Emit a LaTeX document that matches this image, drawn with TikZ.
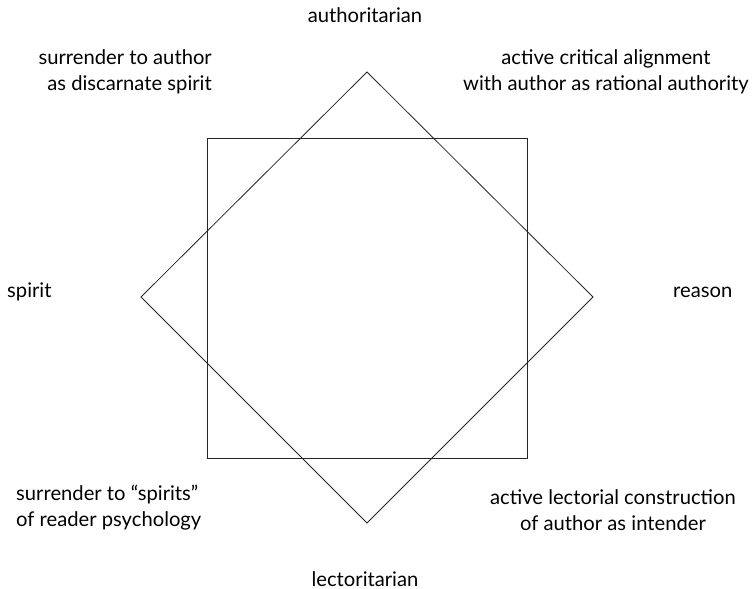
\documentclass[tikz,border=0pt]{standalone}
\usepackage{fontspec}
\setmainfont{Lato}

\begin{document}
\begin{tikzpicture}[
    x=1pt, y=-1pt,
    pole/.style={font=\fontsize{20.2}{26}\selectfont, inner sep=0pt},
    quadrant/.style={pole, align=center},
    outline/.style={line width=0.8pt, black!85},
  ]
  \useasboundingbox (0,0) rectangle (755,589);

  % corners of the diamond and the square
  \coordinate (dtop) at (367,72);
  \coordinate (dright) at (593,297);
  \coordinate (dbottom) at (367,523);
  \coordinate (dleft) at (141,297);
  \coordinate (sqnw) at (207,138);
  \coordinate (sqse) at (527,458);

  \draw[outline] (dtop) -- (dright) -- (dbottom) -- (dleft) -- cycle;
  \draw[outline] (sqnw) rectangle (sqse);

  % poles
  \node[pole, anchor=base] (authority) at (365,22) {authoritarian};
  \node[pole, anchor=base] (lectority) at (365,586) {lectoritarian};
  \node[pole, anchor=base west] (spirit) at (7,297) {spirit};
  \node[pole, anchor=base west] (reason) at (673,297) {reason};

  % quadrants
  \node[quadrant, align=right, anchor=east] (surrauthor) at (212,72)
    {surrender to author\\as discarnate spirit};
  \node[quadrant] (alignment) at (606,72)
    {active critical alignment\\with author as rational authority};
  \node[quadrant, align=left, anchor=west] (surrspirits) at (16,508)
    {surrender to “spirits”\\of reader psychology};
  \node[quadrant] (construction) at (613,510)
    {active lectorial construction\\of author as intender};
\end{tikzpicture}
\end{document}
